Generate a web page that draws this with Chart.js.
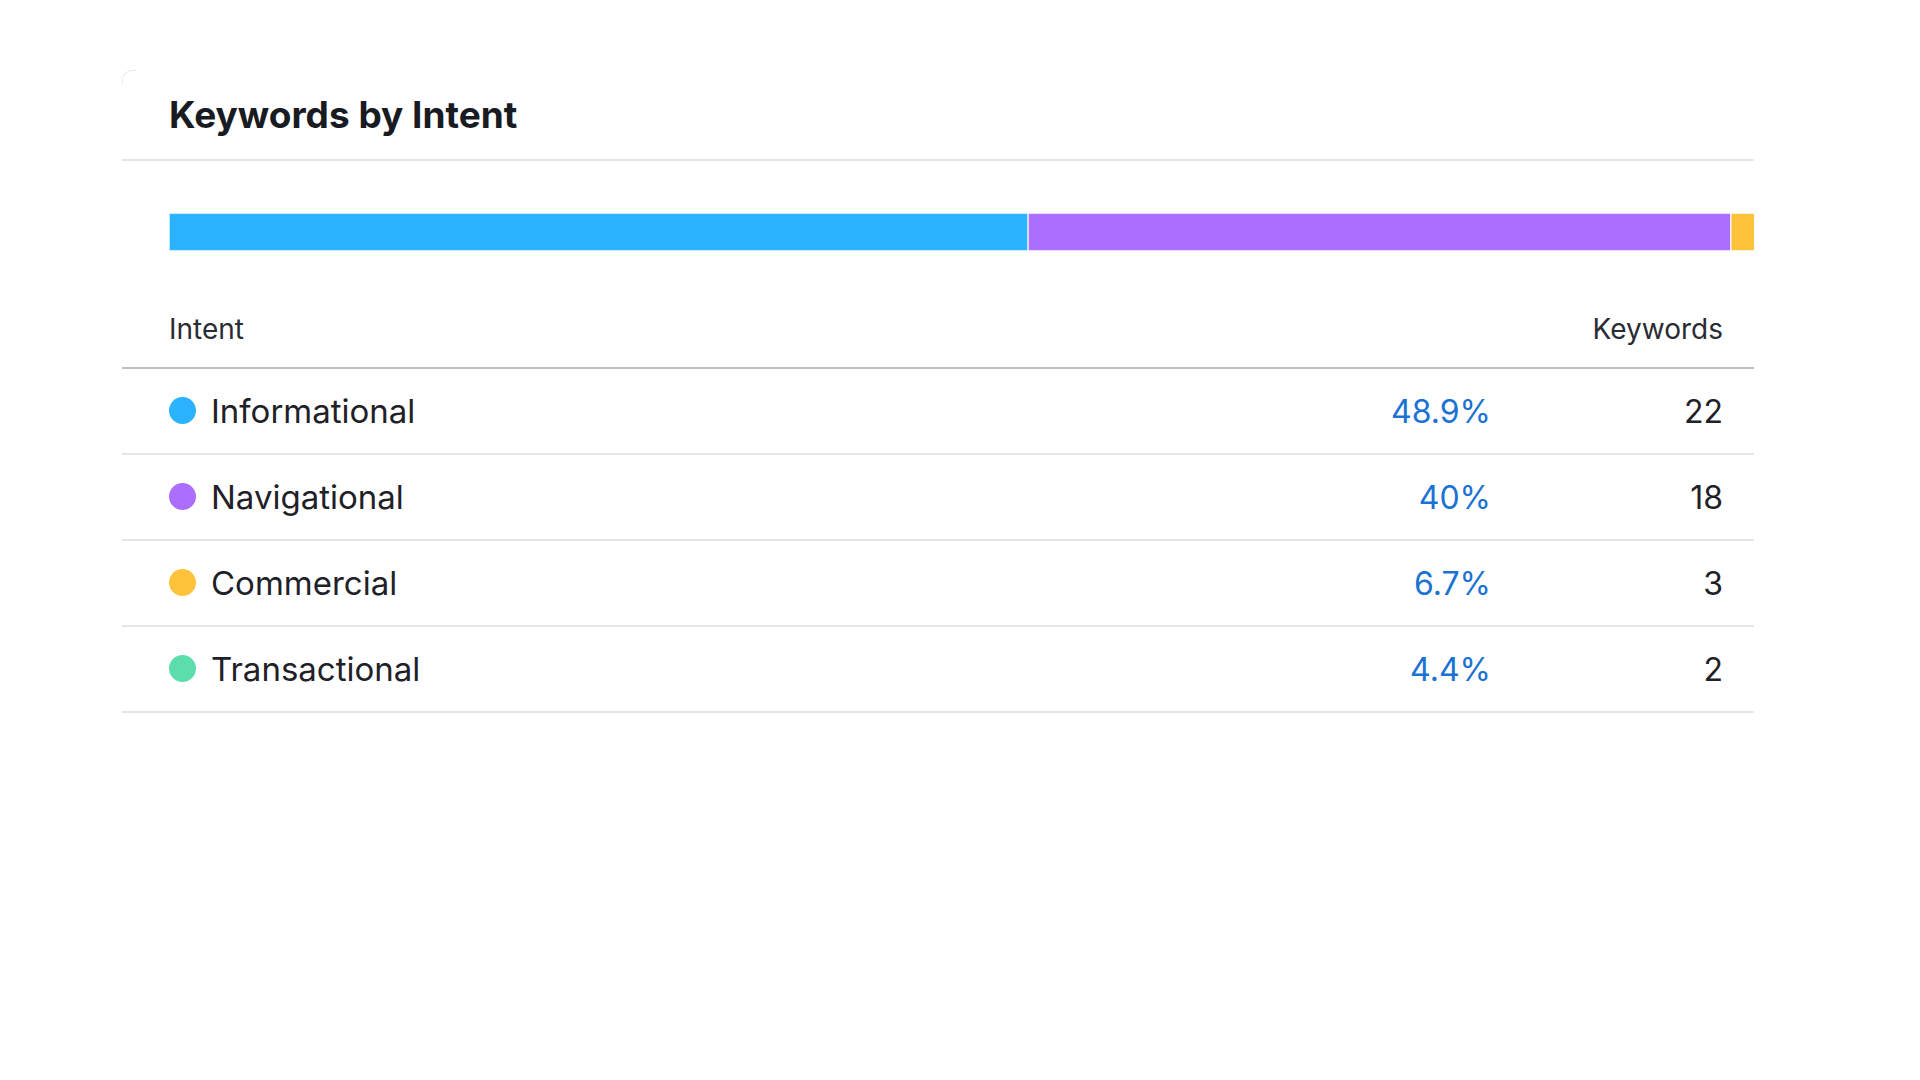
<!DOCTYPE html>
<html>
<head>
<meta charset="utf-8">
<script src="https://cdn.jsdelivr.net/npm/chart.js@4.4.0/dist/chart.umd.min.js"></script>
<style>
    html, body { margin: 0; padding: 0; background: #fff; }
    body { width: 1920px; height: 1080px; position: relative; overflow: hidden; font-family: Inter, "Noto Sans", sans-serif; color: #1f2129; }
    .title { position: absolute; left: 169px; top: 92px; font-size: 37px; line-height: 46px; font-weight: 700; color: #191b23; margin: 0; }
    .corner { position: absolute; left: 122px; top: 70px; width: 14px; height: 14px; border-top: 1px solid #ececf0; border-left: 1px solid #ececf0; border-top-left-radius: 10px; }
    .rule { position: absolute; left: 122px; width: 1632px; height: 2px; background: #e4e4ea; }
    .bar-wrap { position: absolute; left: 169px; top: 213px; width: 1585px; height: 38px; overflow: hidden; }
    .head { position: absolute; top: 309px; font-size: 28px; line-height: 40px; color: #2a2c34; }
    table { position: absolute; left: 122px; top: 369px; width: 1632px; border-collapse: collapse; }
    td { height: 84px; padding: 0; border-bottom: 2px solid #e4e4ea; font-size: 33px; vertical-align: middle; }
    td.name { padding-left: 47px; }
    .dot { display: inline-block; width: 27px; height: 27px; border-radius: 50%; vertical-align: middle; margin-right: 15px; position: relative; top: -4px; }
    td.pct { text-align: right; color: #1a72d3; width: 300px; font-size: 32px; }
    td.cnt { text-align: right; color: #1f2129; width: 232px; padding-right: 31px; font-size: 32px; }
</style>
</head>
<body>
<div class="corner"></div>
<h1 class="title">Keywords by Intent</h1>
<div class="rule" style="top:159px"></div>
<div class="bar-wrap"><canvas id="intentBar" width="1757" height="38"></canvas></div>
<div class="head" style="left:169px">Intent</div>
<div class="head" style="right:197px">Keywords</div>
<div class="rule" style="top:367px; background:#bdbdc6"></div>
<table id="intentTable"></table>
<script>
    const INTENTS = ['Informational', 'Navigational', 'Commercial', 'Transactional']
    const KEYWORDS = [22, 18, 3, 2]
    const COLORS = ['#2bb3ff', '#ab6efe', '#ffc23b', '#5bdeab']

    const total = KEYWORDS.reduce((a, b) => a + b, 0)
    const shareLabel = (v) => {
        let s = (v / total * 100).toFixed(1)
        if (s.endsWith('.0')) s = s.slice(0, -2)
        return s + '%'
    }

    // stacked horizontal bar, wider than its box like the original widget
    const bar = document.getElementById('intentBar')
    const barChart = new Chart(bar, {
        type: 'bar',
        data: {
            labels: ['Intent'],
            datasets: INTENTS.map((name, i) => ({
                label: name,
                data: [KEYWORDS[i]],
                backgroundColor: COLORS[i],
                borderColor: '#ffffff',
                borderWidth: 1,
                borderSkipped: false,
                borderRadius: 3,
                barPercentage: 1,
                categoryPercentage: 1
            }))
        },
        options: {
            indexAxis: 'y',
            responsive: false,
            animation: false,
            layout: { padding: 0 },
            scales: {
                x: { stacked: true, min: 0, max: total, display: false },
                y: { stacked: true, display: false }
            },
            plugins: {
                legend: { display: false },
                tooltip: { enabled: false }
            }
        }
    })

    const myTable = document.getElementById('intentTable')
    for (let i = 0; i < INTENTS.length; i++) {
        var tr = myTable.insertRow(-1)
        var tabCell = tr.insertCell(-1)
        tabCell.className = 'name'
        tabCell.innerHTML = '<span class="dot" style="background:' + COLORS[i] + '"></span>' + INTENTS[i]

        tabCell = tr.insertCell(-1)
        tabCell.className = 'pct'
        tabCell.textContent = shareLabel(KEYWORDS[i])

        tabCell = tr.insertCell(-1)
        tabCell.className = 'cnt'
        tabCell.textContent = KEYWORDS[i]
    }
</script>
</body>
</html>
